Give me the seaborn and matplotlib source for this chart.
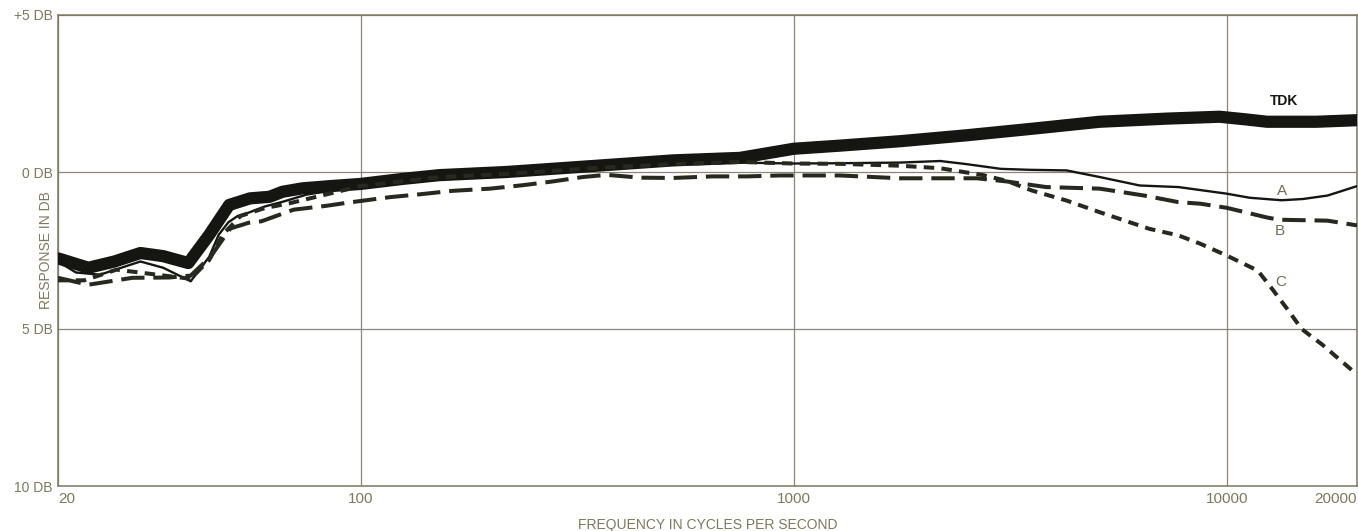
import matplotlib
matplotlib.use("Agg")
import matplotlib.pyplot as plt
import seaborn as sns
import pandas as pd

# ---- data ----
tdk_freq = [20, 23.5, 27, 31, 35, 40, 44.7, 49.7, 55.5, 61.6, 66, 73.4, 85, 100, 125, 152, 217,
            351, 527, 752, 1000, 1280, 1760, 2510, 3570, 5090, 7270, 9630, 11000, 12400, 16100, 20000]
tdk_db = [-2.75, -3.05, -2.85, -2.58, -2.68, -2.9, -2.0, -1.05, -0.84, -0.79, -0.63, -0.52, -0.45, -0.38, -0.22, -0.1, 0.0,
          0.2, 0.37, 0.45, 0.74, 0.84, 0.98, 1.17, 1.38, 1.6, 1.7, 1.76, 1.68, 1.6, 1.6, 1.65]

a_freq = [20, 22, 25, 31, 35, 40.5, 44.7, 47, 49.5, 52, 55, 60, 66, 75, 85, 100, 150, 217, 351, 527, 752,
          1000, 1280, 1760, 2180, 2510, 3010, 3500, 4270, 5090, 6300, 7740, 10000, 11300, 13400, 15000, 17100, 20000]
a_db = [-2.85, -3.2, -3.27, -2.85, -3.05, -3.48, -2.7, -2.0, -1.6, -1.4, -1.3, -1.1, -0.95, -0.72, -0.6, -0.45, -0.15, -0.05, 0.15, 0.25, 0.3,
        0.27, 0.28, 0.3, 0.35, 0.25, 0.1, 0.07, 0.05, -0.16, -0.43, -0.48, -0.69, -0.82, -0.9, -0.86, -0.75, -0.45]

b_freq = [20, 23.5, 29.7, 36.1, 40.5, 45, 50, 55, 59, 70, 83, 93, 117, 137, 163, 199, 237, 278, 326, 370,
          441, 527, 650, 780, 930, 1280, 1760, 2650, 3100, 3830, 5090, 6450, 7740, 8700, 10000, 12400, 13200, 17100, 20000]
b_db = [-3.37, -3.59, -3.37, -3.36, -3.3, -2.7, -1.8, -1.62, -1.57, -1.2, -1.08, -0.98, -0.8, -0.71, -0.6, -0.53, -0.42, -0.3, -0.16, -0.09,
        -0.18, -0.19, -0.14, -0.14, -0.11, -0.11, -0.2, -0.2, -0.3, -0.48, -0.53, -0.75, -0.96, -1.01, -1.14, -1.45, -1.52, -1.55, -1.7]

c_freq = [20, 23, 27.3, 32.5, 36.7, 40.5, 44.7, 48, 52.8, 60, 68.3, 100, 150, 217, 351, 527, 752, 1000, 1280,
          1760, 2180, 2740, 3100, 3550, 4270, 5090, 6630, 7740, 8710, 10000, 11800, 12700, 13900, 14900, 16600, 20000]
c_db = [-3.45, -3.45, -3.11, -3.24, -3.33, -3.4, -2.8, -2.0, -1.4, -1.15, -1.0, -0.45, -0.17, -0.06, 0.13, 0.25, 0.32, 0.27, 0.26,
        0.2, 0.12, -0.1, -0.28, -0.59, -0.91, -1.28, -1.81, -2.02, -2.29, -2.66, -3.14, -3.7, -4.42, -5.0, -5.49, -6.45]

x_ticks = [20, 100, 1000, 10000, 20000]
x_tick_labels = ["20", "100", "1000", "10000", "20000"]
y_ticks = [5, 0, -5, -10]
y_tick_labels = ["+5 DB", "0 DB", "5 DB", "10 DB"]

series_labels = ["TDK", "A", "B", "C"]
label_freq = [13560, 13400, 13300, 13350]
label_db = [2.25, -0.59, -1.87, -3.51]

# ---- style ----
sns.set_theme(style="white")
plt.rcParams['font.family'] = ['Liberation Sans', 'DejaVu Sans']

GRID = '#8c8676'
TXT = '#7a7a5e'
INK = '#151512'
DASHINK = '#262a1e'

fig = plt.figure(figsize=(13.58, 5.31), dpi=100)
ax = fig.add_axes([58 / 1358, 1 - 486 / 531, 1299 / 1358, (486 - 15) / 531])

def frame(f, d):
    return pd.DataFrame({"freq": f, "db": d})

sns.lineplot(data=frame(tdk_freq, tdk_db), x="freq", y="db", ax=ax, color=INK,
             linewidth=8.8, estimator=None, sort=False, solid_capstyle='round',
             solid_joinstyle='round', zorder=3)
sns.lineplot(data=frame(a_freq, a_db), x="freq", y="db", ax=ax, color=INK,
             linewidth=1.7, estimator=None, sort=False, zorder=4)
sns.lineplot(data=frame(b_freq, b_db), x="freq", y="db", ax=ax, color=DASHINK,
             linewidth=2.9, estimator=None, sort=False, linestyle=(0, (5.8, 2.2)), zorder=4)
sns.lineplot(data=frame(c_freq, c_db), x="freq", y="db", ax=ax, color=DASHINK,
             linewidth=2.9, estimator=None, sort=False, linestyle=(0, (2.6, 1.8)), zorder=4)

ax.set_xscale('log')
ax.set_xlim(20, 20000)
ax.set_ylim(-10, 5)

ax.set_xticks(x_ticks)
ax.set_xticklabels(x_tick_labels)
ax.minorticks_off()
ax.set_yticks(y_ticks)
ax.set_yticklabels(y_tick_labels)
ax.tick_params(axis='both', length=0, colors=TXT)
ax.tick_params(axis='x', pad=4, labelsize=11)
ax.tick_params(axis='y', pad=4, labelsize=10)
xl = ax.get_xticklabels()
xl[0].set_horizontalalignment('left')
xl[-1].set_horizontalalignment('right')

ax.grid(True, which='major', color=GRID, linewidth=0.9)
for s in ax.spines.values():
    s.set_visible(True)
    s.set_color('#7d7862')
    s.set_linewidth(1.1)

ax.set_xlabel("FREQUENCY IN CYCLES PER SECOND", fontsize=10, color=TXT, labelpad=9)
ax.set_ylabel("RESPONSE IN DB", fontsize=10, color=TXT)
ax.yaxis.set_label_coords(-0.004, 0.5)

for lab, f, d in zip(series_labels, label_freq, label_db):
    if lab == "TDK":
        ax.text(f, d, lab, fontsize=10, fontweight='bold', color=INK, ha='center', va='center', zorder=5)
    else:
        ax.text(f, d, lab, fontsize=11, color='#6e6e50', ha='center', va='center', zorder=5)

fig.savefig("out.png", dpi=100, facecolor='white')
